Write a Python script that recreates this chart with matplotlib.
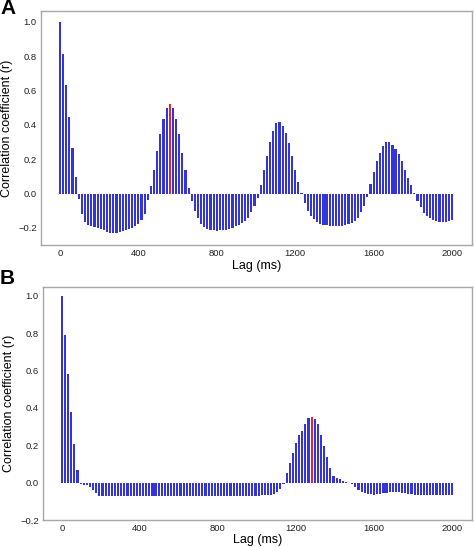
import numpy as np
import matplotlib
matplotlib.use("Agg")
import matplotlib.pyplot as plt

plt.rcParams['font.family'] = ['Liberation Sans', 'DejaVu Sans']

# ---- data ----
lag_step_ms = 16
lags = np.arange(0, 2001, lag_step_ms)  # 126 lags

r_a = [
    # 0..5
    1.0, 0.814, 0.63, 0.446, 0.265, 0.099,
    # 6..28
    -0.03, -0.12, -0.165, -0.185, -0.19, -0.195, -0.20, -0.205, -0.215, -0.225,
    -0.23, -0.231, -0.23, -0.226, -0.22, -0.213, -0.207, -0.2, -0.19, -0.175,
    -0.155, -0.12, -0.04,
    # 29..41
    0.043, 0.14, 0.246, 0.345, 0.436, 0.498, 0.521, 0.496, 0.434, 0.347, 0.238,
    0.138, 0.035,
    # 42..63
    -0.045, -0.10, -0.145, -0.176, -0.196, -0.205, -0.211, -0.215, -0.216,
    -0.215, -0.213, -0.21, -0.205, -0.2, -0.192, -0.183, -0.172, -0.158, -0.14,
    -0.11, -0.07, -0.025,
    # 64..77
    0.048, 0.14, 0.217, 0.30, 0.366, 0.41, 0.417, 0.395, 0.352, 0.295, 0.22,
    0.14, 0.066, 0.005,
    # 78..98
    -0.054, -0.099, -0.13, -0.15, -0.167, -0.176, -0.182, -0.186, -0.188,
    -0.189, -0.189, -0.189, -0.188, -0.185, -0.18, -0.172, -0.16, -0.14, -0.11,
    -0.07, -0.02,
    # 99..113
    0.058, 0.126, 0.188, 0.237, 0.276, 0.298, 0.30, 0.285, 0.26, 0.23, 0.188,
    0.14, 0.091, 0.047, 0.005,
    # 114..125
    -0.045, -0.08, -0.113, -0.13, -0.145, -0.157, -0.163, -0.165, -0.167,
    -0.165, -0.16, -0.155,
]

r_b = [
    # 0..5
    1.0, 0.792, 0.584, 0.378, 0.208, 0.068,
    # 6..11
    -0.005, -0.01, -0.015, -0.025, -0.04, -0.058,
    # 12..64
    -0.07, -0.071, -0.072, -0.072, -0.072, -0.071, -0.071, -0.071, -0.071, -0.071,
    -0.071, -0.071, -0.071, -0.071, -0.071, -0.071, -0.071, -0.071, -0.071, -0.071,
    -0.071, -0.071, -0.071, -0.071, -0.071, -0.071, -0.071, -0.071, -0.071, -0.071,
    -0.071, -0.071, -0.071, -0.071, -0.071, -0.071, -0.071, -0.071, -0.071, -0.071,
    -0.07, -0.07, -0.07, -0.07, -0.07, -0.07, -0.07, -0.07, -0.07, -0.069,
    -0.069, -0.069, -0.068,
    # 65..71
    -0.068, -0.068, -0.066, -0.063, -0.052, -0.034, -0.005,
    # 72..91
    0.05, 0.106, 0.158, 0.21, 0.254, 0.276, 0.314, 0.344, 0.353, 0.342, 0.312,
    0.256, 0.197, 0.138, 0.081, 0.034, 0.023, 0.018, 0.009, 0.003,
    # 92..125
    -0.004, -0.007, -0.023, -0.038, -0.048, -0.056, -0.06, -0.063, -0.064,
    -0.062, -0.06, -0.057, -0.053, -0.05, -0.048, -0.048, -0.05, -0.053, -0.056,
    -0.059, -0.062, -0.064, -0.066, -0.067, -0.067, -0.068, -0.068, -0.068,
    -0.068, -0.068, -0.068, -0.068, -0.068, -0.068,
]

peak_lag_a = 560
peak_lag_b = 1280

x_ticks = [0, 400, 800, 1200, 1600, 2000]
y_ticks_a = [-0.2, 0.0, 0.2, 0.4, 0.6, 0.8, 1.0]
y_ticks_b = [-0.2, 0.0, 0.2, 0.4, 0.6, 0.8, 1.0]

# ---- style ----
BLUE = '#3434dc'
RED = '#e8202a'
SPINE = '#a8a8a8'

W, H = 474, 547
fig = plt.figure(figsize=(W / 100, H / 100), dpi=100)


def fx(px):
    return px / W


def fy(px):
    return 1 - px / H


def make_panel(rect, r, peak_lag, ylim, yticks, letter, letter_y, xlabelpad):
    l, t, rr, b = rect
    ax = fig.add_axes([fx(l), fy(b), fx(rr - l), (b - t) / H])
    colors = [RED if lag == peak_lag else BLUE for lag in lags]
    ax.bar(lags, r, width=11, color=colors, linewidth=0)
    ax.set_xlim(-97, 2102)
    ax.set_ylim(*ylim)
    ax.set_xticks(x_ticks)
    ax.set_xticklabels([str(v) for v in x_ticks])
    ax.set_yticks(yticks)
    ax.set_yticklabels([f"{v:.1f}".replace('-', '\u2212') for v in yticks])
    ax.tick_params(length=0, labelsize=6.8, pad=3, colors='#222222')
    for s in ax.spines.values():
        s.set_color(SPINE)
        s.set_linewidth(1.0)
    ax.set_xlabel('Lag (ms)', fontsize=9, labelpad=xlabelpad)
    ax.set_ylabel('Correlation coefficient (r)', fontsize=9, labelpad=4)
    fig.text(0.0, fy(letter_y), letter, fontsize=15, fontweight='bold',
             ha='left', va='top')
    return ax


make_panel((41, 11, 472, 245), r_a, peak_lag_a, (-0.30, 1.064), y_ticks_a, 'A', -1, 1.5)
make_panel((43, 287, 472, 520), r_b, peak_lag_b, (-0.20, 1.048), y_ticks_b, 'B', 269, 0.5)

fig.savefig('out.png', dpi=100)
